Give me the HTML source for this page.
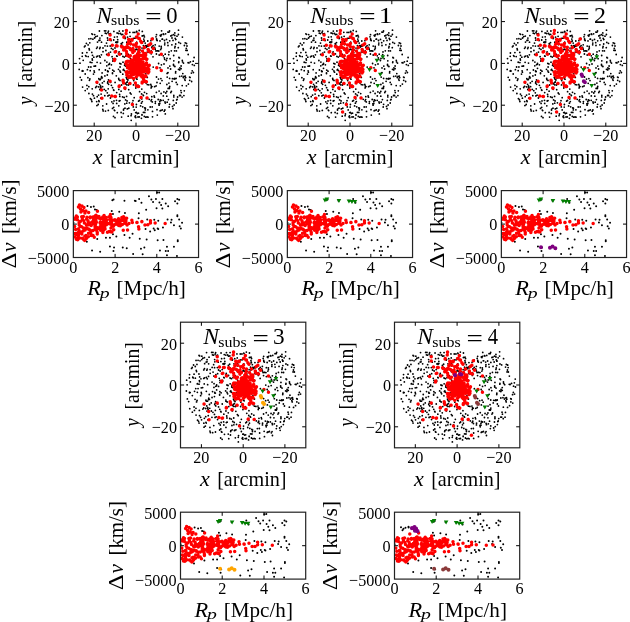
<!DOCTYPE html>
<html><head><meta charset="utf-8"><style>
html,body{margin:0;padding:0;background:#fff;width:630px;height:622px;overflow:hidden}
svg{display:block;will-change:transform}
text{font-family:"Liberation Serif", serif;fill:#000;font-kerning:none}
</style></head><body>
<svg width="630" height="622" viewBox="0 0 630 622">
<defs><g id="xyb"><path d="M14.8 21.1h0M34.8 29.1h0M0.3 4.1h0M27.7 -29.0h0M-0.7 -13.7h0M-2.5 21.5h0M31.2 13.7h0M-41.3 -28.8h0M28.5 -22.9h0M20.1 22.5h0M20.6 -24.5h0M1.9 -4.1h0M-56.5 -4.8h0M-5.9 -27.1h0M-33.9 9.5h0M-41.9 2.8h0M37.5 1.0h0M46.5 -1.6h0M-1.0 -5.8h0M-18.3 -21.5h0M29.3 39.7h0M24.9 47.0h0M-24.6 -15.0h0M10.4 -16.3h0M-8.4 -26.3h0M39.2 -25.1h0M-27.4 1.3h0M-36.3 -14.8h0M36.5 15.3h0M5.8 25.7h0M-5.8 29.6h0M16.9 -25.0h0M-43.6 -3.3h0M-18.3 -23.7h0M-28.1 18.3h0M-23.3 6.7h0M47.5 -0.3h0M-32.8 47.5h0M58.1 -5.9h0M-47.9 -18.5h0M-28.3 8.1h0M45.3 29.2h0M-10.1 2.8h0M-14.4 -18.9h0M0.4 15.2h0M42.5 -33.2h0M-26.8 -29.4h0M-11.7 -6.3h0M46.3 -3.1h0M-12.7 50.0h0M38.1 41.6h0M-40.5 2.6h0M21.3 51.7h0M26.0 17.2h0M31.0 -5.0h0M33.0 -31.3h0M-43.5 -29.1h0M16.0 23.2h0M2.9 9.7h0M-13.1 -32.4h0M-23.2 -4.6h0M53.7 16.9h0M-2.9 -31.0h0M24.0 -22.5h0M-56.0 -0.2h0M20.4 -9.4h0M-28.4 19.6h0M-9.3 21.4h0M-35.3 34.8h0M28.0 0.6h0M-22.0 37.5h0M-31.5 -32.6h0M30.5 -24.0h0M52.9 -0.5h0M-36.6 -32.4h0M-9.7 19.3h0M-12.5 46.6h0M44.9 27.2h0M50.5 -20.0h0M19.2 -14.2h0M-14.8 -19.7h0M-25.8 -17.4h0M-16.8 37.6h0M37.7 -7.9h0M-52.8 -3.1h0M-14.9 49.1h0M-35.9 -15.9h0M-10.4 36.5h0M28.9 46.6h0M-18.8 -26.6h0M53.6 13.7h0M-27.8 25.4h0M-21.5 -26.3h0M48.7 15.7h0M-31.1 -2.9h0M-13.3 -29.1h0M-8.2 -0.8h0M35.4 27.9h0M37.8 31.9h0M-20.2 -21.1h0M-16.2 33.0h0M29.6 -29.6h0M6.2 -20.4h0M-0.2 24.6h0M-6.2 -31.1h0M-9.7 14.1h0M20.4 29.0h0M39.9 -24.1h0M7.8 -14.9h0M-29.6 -29.8h0M9.2 -20.3h0M0.9 -31.4h0M36.1 17.9h0M-3.0 37.3h0M55.4 9.7h0M50.3 -15.0h0M42.9 -6.0h0M-28.1 32.5h0M11.3 14.0h0M-33.0 -15.4h0M-28.7 11.6h0M34.6 5.6h0M-12.3 5.9h0M-39.4 22.9h0M-10.6 -25.4h0M-22.5 53.0h0M-22.0 7.8h0M-16.7 -9.8h0M-8.9 37.5h0M-11.0 44.8h0M-56.8 6.0h0M16.5 48.0h0M-48.1 14.3h0M-15.1 0.5h0M-41.4 -25.4h0M2.5 49.8h0M-45.8 -1.1h0M49.9 -13.1h0M47.3 14.1h0M33.5 -32.5h0M-11.2 40.5h0M-33.0 -11.7h0M2.1 -13.6h0M-44.1 -29.6h0M26.3 46.5h0M-53.7 7.3h0M11.6 5.9h0M14.9 -22.7h0M-9.4 9.7h0M-8.7 18.6h0M-6.2 -7.2h0M-55.8 13.9h0M-1.2 -31.0h0M30.8 32.8h0M-43.5 -8.1h0M-47.8 -6.8h0M27.3 32.5h0M0.5 -14.3h0M27.2 36.9h0M-1.0 53.4h0M-50.9 -17.5h0M46.4 -26.3h0M0.3 49.1h0M-34.1 -27.8h0M0.7 -21.2h0M21.0 46.3h0M-38.8 33.3h0M-45.1 3.6h0M16.0 -16.4h0M43.7 6.5h0M9.4 44.8h0M15.2 -12.4h0M34.8 -27.5h0M57.4 9.1h0M-16.4 31.0h0M37.4 -28.8h0M10.1 19.2h0M-31.9 17.9h0M-16.7 -32.3h0M9.8 10.4h0M-34.6 14.5h0M16.2 43.5h0M33.0 -11.5h0M17.0 -6.6h0M27.3 -29.4h0M3.7 -11.0h0M6.0 51.6h0M-22.3 -23.4h0M33.1 25.2h0M28.7 -4.1h0M28.3 -5.6h0M-19.3 29.2h0M22.8 40.4h0M24.8 -27.4h0M6.3 -7.5h0M33.8 2.7h0M-27.5 16.6h0M-28.0 -30.9h0M28.8 -20.3h0M44.5 -20.1h0M-30.5 47.7h0M15.3 22.6h0M-3.6 39.8h0M23.1 41.8h0M-7.3 26.3h0M8.2 -22.5h0M-33.7 14.4h0M22.5 15.7h0M23.1 27.7h0M-50.8 10.6h0M-16.0 37.2h0M40.7 36.5h0M38.0 15.4h0M-47.1 30.1h0M-34.5 -21.2h0M-28.5 -25.4h0M25.3 -15.4h0M-21.0 54.3h0M0.4 41.1h0M-10.2 -7.4h0M32.0 -17.9h0M24.0 4.4h0M-33.2 42.4h0M-34.9 30.7h0M-1.1 -1.0h0M-0.6 -17.9h0M38.8 -28.0h0M-33.4 23.3h0M33.7 23.1h0M33.6 15.0h0M-16.9 -11.6h0M-12.3 45.7h0M-27.7 47.0h0M0.1 -14.1h0M-4.6 3.7h0M29.8 29.6h0M17.1 -17.7h0M40.2 19.0h0M-38.7 -7.2h0M32.0 9.3h0M-43.8 -4.4h0M-36.1 -23.2h0M23.8 40.2h0M-29.5 -20.3h0M-46.6 -13.5h0M27.3 -7.6h0M-35.6 16.1h0M-11.8 34.1h0M22.6 0.1h0M12.1 -11.2h0M28.2 47.8h0M-8.2 8.7h0M29.2 -9.2h0M-31.8 26.0h0M44.5 32.1h0M41.3 21.0h0M-5.4 -21.9h0M-9.4 33.0h0M24.9 15.2h0M-29.3 -8.9h0M-5.2 14.2h0M-10.6 20.5h0M18.1 32.6h0M-13.0 -1.2h0M8.7 4.8h0M25.4 1.4h0M16.3 38.5h0M2.5 -10.5h0M21.6 -12.6h0M-9.5 -9.3h0M23.2 -17.3h0M-27.5 -32.3h0M3.2 -32.9h0M35.3 -12.6h0M32.4 36.2h0M-17.2 16.2h0M37.3 37.0h0M-3.7 -24.1h0M39.1 -17.0h0M41.0 -27.2h0M-14.5 -28.8h0M-25.6 -29.8h0M-23.2 -2.4h0M-8.4 16.1h0M18.6 -16.1h0M38.8 15.6h0M-31.2 32.3h0M45.8 12.7h0M32.9 19.7h0M46.1 33.7h0M-35.4 22.6h0M3.6 28.3h0M-7.2 44.8h0M6.4 -27.6h0M-1.0 -0.2h0M4.6 42.5h0M-3.7 7.3h0M19.3 39.9h0M-14.6 -9.5h0M12.8 21.4h0M50.5 -19.8h0M56.4 1.2h0M-1.8 46.5h0M14.7 -18.9h0M42.3 -15.7h0M-3.0 3.0h0M-7.6 -9.1h0M6.3 38.2h0M-24.2 38.4h0M-11.3 0.4h0M-26.7 0.8h0M55.6 18.1h0M-19.8 -21.4h0M-23.5 10.1h0M15.8 33.3h0M45.1 5.3h0M49.3 12.7h0M18.5 33.8h0M48.0 13.1h0M11.3 21.2h0M-33.6 19.5h0M-4.9 30.7h0M37.8 33.5h0M-28.3 -23.2h0M-9.2 -21.2h0M-8.1 16.6h0M-44.6 36.3h0M8.8 49.0h0M-13.2 10.8h0M-2.9 -10.3h0M-46.6 16.9h0M-30.2 27.3h0M32.1 25.0h0M15.1 24.5h0M-4.6 50.6h0M-22.1 26.9h0M-39.1 42.2h0M-15.5 8.8h0M-7.2 20.7h0M-41.6 34.8h0M-16.0 17.0h0M15.2 -9.6h0M-13.4 33.5h0M7.8 -24.3h0M23.8 38.3h0M-19.7 12.4h0M11.8 -22.4h0M-8.4 45.4h0M-14.4 21.6h0M11.9 46.4h0M36.0 -25.4h0M-9.1 10.1h0M37.0 45.3h0M36.5 43.0h0M8.4 -26.5h0M41.1 35.9h0M48.4 -17.9h0M-48.6 6.3h0M29.3 50.5h0M-31.1 12.5h0M-28.7 29.4h0M34.1 -4.7h0M31.9 -31.3h0M9.3 46.5h0M45.1 2.6h0M-2.7 10.5h0M-37.4 23.5h0M-16.1 7.5h0M-11.4 2.0h0M-46.1 15.5h0M11.4 -18.2h0M42.8 -1.6h0M7.9 -27.9h0M32.7 -8.7h0M6.7 43.4h0M-4.9 52.3h0M11.5 -12.0h0M-28.4 7.5h0M16.5 53.4h0M19.9 -12.5h0M-28.6 -17.3h0M33.5 24.5h0M20.7 -23.5h0M10.7 30.2h0M-46.2 -20.6h0M-42.2 -6.2h0M40.1 15.0h0M-5.6 -18.8h0M37.8 -2.6h0M25.0 6.2h0M-27.3 -10.3h0M-40.3 -26.8h0M39.7 -19.4h0M-38.9 -1.1h0M-21.3 47.2h0M-2.6 -25.0h0M-47.1 -24.6h0M26.5 -24.2h0M35.9 -18.6h0M38.9 3.1h0M-36.8 -7.6h0M-37.4 31.7h0M-34.4 13.2h0M24.3 36.5h0M-50.8 27.2h0M-10.8 25.9h0M-19.3 40.0h0M42.7 -0.8h0M-2.7 43.5h0M38.8 -15.6h0M-39.4 -15.1h0M2.3 -6.3h0M25.1 37.0h0M42.8 -21.0h0M24.7 -13.9h0M-0.6 1.6h0M3.6 4.4h0M-47.2 23.3h0M11.6 9.0h0M2.7 23.7h0M-44.1 -0.8h0M0.1 -25.8h0M-44.2 -11.0h0M-42.5 10.7h0M8.5 28.9h0M-39.3 38.2h0M51.2 -13.0h0M-9.3 39.8h0M3.0 -12.2h0M-18.9 -30.4h0M-19.3 -7.5h0M2.0 53.6h0M-9.1 15.5h0M-15.9 3.6h0M-50.4 -7.8h0M15.6 36.2h0M-54.5 16.6h0M-27.4 20.9h0M-26.5 4.9h0M49.7 14.2h0M-29.2 2.4h0M-7.8 52.8h0M-24.9 -22.8h0M11.0 53.4h0M1.6 -27.1h0M-3.9 4.0h0M-43.1 -24.2h0M-10.9 -24.8h0M5.4 39.8h0M-35.0 24.6h0M-4.6 5.6h0M-30.2 -32.6h0M1.5 -13.7h0M-17.2 42.4h0M-30.6 6.6h0M-1.0 -25.2h0M-13.1 -7.0h0M-19.1 -17.3h0M20.5 13.6h0M37.6 2.1h0M27.9 28.5h0M30.4 -2.9h0M33.3 24.4h0M31.1 10.0h0M-0.2 54.2h0M8.4 -9.6h0M33.2 43.6h0M12.6 -14.1h0M-5.6 -4.9h0M26.1 -24.2h0M-12.8 6.5h0M-13.5 -20.8h0M33.6 40.9h0M-0.1 -6.6h0M-37.0 -22.9h0M-41.6 8.8h0M49.2 -20.6h0M40.2 39.6h0M-34.6 -8.6h0M-53.0 7.6h0M-0.3 49.2h0M32.0 4.5h0M58.3 2.0h0M2.0 21.7h0M-12.9 -16.7h0M11.1 -17.4h0M52.4 20.7h0M-46.9 -14.7h0M-11.6 7.2h0M8.7 44.5h0M54.4 -1.6h0M-7.0 14.6h0M3.5 37.0h0M-38.5 -21.3h0M46.2 22.2h0M-24.6 1.4h0M-37.2 15.2h0M12.1 -17.2h0M-53.6 -10.4h0M33.7 -22.6h0M-22.9 40.0h0M10.1 19.7h0M-35.5 -0.3h0M6.2 -27.4h0M17.2 3.7h0M8.7 -10.4h0M2.6 37.8h0M13.2 35.9h0M31.7 -20.7h0M25.2 -17.1h0M-38.7 -27.3h0M9.6 -17.7h0M-5.9 -13.4h0M9.7 53.8h0M-7.1 14.1h0M-21.7 46.7h0M37.0 -23.0h0M12.0 53.8h0M-0.5 52.6h0M-30.1 -12.9h0M25.6 -32.6h0M-22.3 43.9h0M-1.8 34.3h0M4.0 -13.4h0M-44.1 38.1h0M-17.4 -29.9h0M-36.1 -25.3h0M19.2 -18.6h0M-40.3 24.1h0M-6.6 39.4h0M-17.2 26.0h0M-14.4 53.7h0M0.6 -31.9h0M24.2 -28.0h0M46.8 10.2h0M-15.4 -29.7h0M1.5 5.0h0M-26.9 31.8h0M-13.5 18.4h0M7.9 -22.1h0M-37.8 41.1h0M-20.9 19.0h0M-45.8 7.3h0M-16.2 0.0h0M-22.1 -32.0h0M-43.8 25.4h0M-25.5 -11.3h0M47.9 32.2h0M21.0 19.1h0M-17.4 -10.2h0M18.6 23.3h0M-29.4 40.6h0M-17.3 15.1h0M48.3 27.4h0M-23.0 -14.0h0M39.7 8.2h0M25.4 -28.7h0M-7.6 21.6h0M22.8 -12.4h0M29.0 38.5h0M52.2 -8.9h0M50.4 22.4h0M38.6 15.0h0M23.2 -8.4h0M1.4 50.1h0M-43.6 30.7h0M-53.4 23.7h0M35.8 -27.9h0M5.4 54.9h0M-51.6 -16.6h0M24.2 19.9h0M-30.7 -30.2h0M1.8 -6.4h0M51.0 -17.4h0M-23.5 45.0h0M-41.9 7.4h0M-19.5 36.9h0M5.6 30.5h0M-38.7 19.5h0M11.5 -4.5h0M31.2 38.8h0M-45.1 -24.7h0M-35.4 23.6h0M-20.5 -3.7h0M-48.7 25.4h0M56.2 7.4h0M-45.8 -1.3h0M49.1 16.9h0M39.7 -23.8h0M-36.8 16.2h0M-38.8 33.3h0M-36.9 38.1h0M-21.0 -15.4h0M6.0 -15.3h0M38.8 -30.5h0M-53.7 7.8h0M15.0 37.4h0M24.1 47.4h0M52.1 -0.7h0M-23.5 9.5h0M-49.1 22.0h0M-39.4 -6.6h0M-53.8 -7.1h0M-36.2 26.1h0M41.6 33.6h0M-25.4 18.9h0M1.7 -9.2h0M-18.9 -7.2h0M19.4 38.2h0M-23.9 -6.7h0M7.4 -17.8h0M-20.6 -4.6h0M54.1 14.0h0M8.3 53.0h0M-2.3 17.2h0M-23.5 -18.3h0M-36.4 20.9h0M18.8 -15.0h0M9.5 -9.8h0M3.5 7.6h0M42.4 -28.9h0M-47.4 3.6h0M-29.1 -1.3h0M6.3 -32.0h0M1.5 10.4h0M-49.1 -10.8h0M-49.9 -7.1h0M42.5 5.9h0M25.1 30.1h0M38.6 -12.6h0M7.4 32.2h0M-42.5 32.3h0M-23.4 24.3h0M-8.7 45.5h0M14.2 43.6h0M7.4 48.9h0M28.7 -18.6h0M30.9 21.1h0M-14.9 27.8h0M5.7 35.5h0M20.5 -28.7h0M-35.9 -6.2h0M39.6 9.5h0M-45.6 35.2h0M-36.8 6.3h0M-24.6 21.9h0M43.9 4.5h0M22.2 36.1h0M0.2 43.7h0M-37.2 37.3h0M21.0 -12.6h0M40.4 -12.5h0M43.7 13.0h0M-49.6 -20.0h0M-33.2 46.1h0M-38.7 -16.3h0M-3.8 9.0h0M-13.1 -17.1h0M-4.8 56.9h0M20.0 -26.6h0M-26.5 0.0h0M-27.8 8.1h0M3.3 53.5h0M7.1 31.7h0M43.6 32.1h0M15.8 -16.0h0M-25.6 34.6h0M21.2 -22.9h0M30.8 28.0h0M1.0 15.8h0M-17.5 5.9h0M-19.1 -20.7h0M57.2 -2.2h0M-15.5 -30.0h0M-31.0 -17.6h0M43.4 -5.5h0M-6.4 8.0h0M-22.4 26.5h0M6.0 51.2h0M-18.7 49.3h0" stroke="#000" stroke-width="1.8" stroke-linecap="round"/><path d="M-9.6 -32.9h0M-9.9 -30.0h0M2.2 -29.3h0M-12.1 -26.1h0M0.4 -26.5h0M3.3 -25.0h0M-6.7 -23.6h0M-3.9 -24.0h0M4.7 -22.2h0M5.8 -20.8h0M16.1 -24.3h0M-7.4 -21.1h0M-5.3 -19.7h0M0.4 -20.0h0M-2.4 -18.3h0M-18.9 -17.5h0M-14.6 -17.2h0M-12.4 -15.8h0M-9.6 -16.5h0M-6.7 -15.4h0M-3.1 -15.0h0M0.4 -16.8h0M3.3 -16.1h0M8.3 -16.1h0M12.9 -18.3h0M14.7 -19.7h0M17.2 -15.0h0M-20.3 -11.8h0M-16.7 -9.3h0M-12.4 -13.3h0M-9.6 -11.8h0M2.6 -11.5h0M12.6 -12.5h0M15.4 -11.1h0M9.7 -8.3h0M-4.6 -13.3h0M-1.7 -12.5h0M-7.4 13.0h0M-2.4 15.2h0M7.6 15.9h0M9.0 18.0h0M6.1 19.5h0M10.4 18.4h0M-12.8 17.3h0M-12.4 19.5h0M-6.0 20.2h0M-0.6 19.5h0M0.4 22.3h0M2.6 23.0h0M-16.7 22.7h0M-11.0 24.8h0M5.1 34.1h0M11.1 34.5h0M-20.6 33.0h0M-9.0 10.6h0M-5.0 11.6h0M5.0 12.6h0M10.0 13.1h0M-0.7 6.2h0M-0.5 0.4h0M-5.0 1.1h0M8.2 5.6h0M7.7 4.3h0M3.6 3.9h0M-9.8 8.6h0M4.3 6.1h0M-4.8 -0.7h0M3.0 2.3h0M4.4 -1.9h0M3.0 5.4h0M4.6 11.0h0M-3.0 -2.6h0M-1.2 1.9h0M5.1 4.3h0M-1.9 -4.1h0M-2.4 11.1h0M-4.3 4.3h0M3.8 -7.8h0M1.3 11.7h0M0.3 -3.1h0M4.2 2.2h0M-8.5 8.4h0M5.4 9.2h0M10.4 5.1h0M1.8 -6.5h0M5.0 -1.7h0M-1.9 -6.3h0M-5.3 -1.1h0M-8.5 4.3h0M10.4 6.6h0M3.3 -2.6h0M-6.3 9.4h0M8.2 3.7h0M2.6 5.6h0M11.4 6.9h0M4.4 6.4h0M-9.2 11.6h0M7.2 6.3h0M-0.2 9.7h0M-7.5 13.9h0M4.6 1.5h0M3.1 7.1h0M1.8 10.6h0M-3.3 -0.3h0M7.8 2.8h0M-4.7 9.2h0M10.5 -0.5h0M-8.0 1.7h0M0.0 0.5h0M10.1 -4.6h0M9.2 -6.3h0M-4.1 7.0h0M8.3 8.6h0M3.2 3.6h0M2.0 6.6h0M-0.1 4.5h0M4.7 2.6h0M6.0 6.6h0M-1.8 -0.0h0M0.9 9.1h0M-1.2 5.3h0M-6.3 4.3h0M3.6 4.3h0M-1.8 7.2h0M2.8 -1.1h0M-2.6 1.9h0M-0.5 2.2h0M7.6 -5.6h0M0.6 9.3h0M6.6 13.0h0M-10.1 0.1h0M-1.2 7.0h0M8.1 -7.5h0M5.4 -7.8h0M2.1 11.0h0M0.0 3.9h0M6.2 3.6h0M0.4 13.3h0M7.8 0.5h0M6.9 0.7h0M1.9 7.5h0M2.4 7.1h0M-8.9 -8.0h0M5.0 -4.1h0M-5.7 -7.7h0M9.2 7.8h0M10.6 -4.0h0M1.0 -5.4h0M6.0 13.7h0M-4.8 13.5h0M7.4 1.4h0M0.4 -1.6h0M3.6 5.5h0M10.7 -4.5h0M8.4 13.0h0M10.4 1.3h0M-3.8 9.7h0M1.7 3.5h0M10.3 0.8h0M3.1 -1.7h0M0.9 8.4h0M1.5 11.9h0M0.6 9.9h0M-3.4 8.8h0M-7.0 2.5h0M-0.2 2.4h0M-2.8 4.2h0M12.6 2.9h0M4.5 9.6h0M-0.3 -6.2h0M-2.6 10.1h0M-9.7 -1.6h0M7.5 8.1h0M1.0 8.2h0M2.1 -5.7h0M-9.2 -1.9h0M7.0 -1.4h0M-4.9 -2.8h0M-9.0 1.8h0M-6.7 5.1h0M-3.2 -11.0h0M5.7 0.7h0M2.9 -0.6h0M6.1 7.8h0M5.3 4.9h0M9.7 7.2h0M6.8 11.8h0M-0.9 -0.7h0M-5.0 7.4h0M13.3 1.8h0M4.6 8.9h0M-4.9 2.0h0M2.9 8.4h0M0.8 1.2h0M-5.6 0.1h0M6.8 3.3h0M-4.5 -3.3h0M5.0 6.0h0M11.9 5.6h0M0.6 6.3h0M3.1 -2.3h0M-8.1 -2.1h0M2.9 3.9h0M-1.6 -4.2h0M-6.8 -6.8h0M12.1 9.5h0M12.8 8.3h0M-4.7 4.4h0M0.6 6.3h0M-3.7 1.7h0M4.0 5.2h0M5.1 4.1h0M-1.1 8.1h0M1.3 -3.2h0M-3.1 2.6h0M0.3 3.7h0M1.0 3.8h0M0.1 -6.2h0M3.7 10.0h0M3.8 1.3h0M3.9 -4.2h0M-5.0 7.8h0M-5.8 13.6h0M-1.5 -7.0h0M-4.0 6.2h0M4.2 3.8h0M10.6 7.5h0M0.9 6.8h0M11.8 9.4h0M7.7 -5.0h0M0.0 7.7h0M-0.9 10.1h0M4.9 9.0h0M9.1 1.1h0M-1.2 8.7h0M7.4 2.6h0M-6.6 3.9h0M3.3 10.5h0M6.1 2.8h0M6.5 6.4h0M2.3 3.0h0M-0.6 7.4h0M-5.9 -1.8h0M1.0 -7.6h0M-3.4 6.6h0M4.7 2.2h0M-0.5 -7.3h0M12.9 6.2h0M12.1 -13.9h0M7.8 -10.2h0M-8.2 -15.9h0M1.6 -9.7h0M9.7 -9.9h0M3.8 -8.5h0M6.4 -12.5h0M-8.4 -19.2h0M-9.2 -9.7h0M3.1 -13.8h0M-9.6 -32.8h0M-25.9 -28.3h0M-25.9 -24.0h0M-11.9 -26.6h0M2.2 -29.4h0M16.3 -24.3h0M-23.7 -18.1h0M-19.7 -17.6h0M-20.9 -11.4h0M-27.6 -8.6h0M-16.4 -9.1h0M-21.4 -4.1h0M-14.1 -16.4h0M8.4 -15.9h0M13.5 -18.7h0M17.4 -14.8h0M14.0 -11.4h0M25.3 -9.1h0M20.8 4.4h0M25.3 7.2h0M-7.4 -23.8h0M-4.0 -23.2h0M2.8 -24.9h0M5.6 -20.9h0M-0.6 -18.7h0M-10.7 -14.8h0M-5.1 -14.2h0M-25.9 17.9h0M-13.0 16.8h0M-16.9 23.0h0M-11.3 24.7h0M-6.2 20.2h0M-0.6 19.6h0M1.7 23.0h0M6.2 18.5h0M9.0 17.9h0M-8.5 12.3h0M9.5 12.3h0M-39.1 18.9h0M-34.5 26.6h0M-34.1 34.8h0M-24.3 32.6h0M-21.0 33.2h0M-16.8 22.6h0M-11.0 24.6h0M-3.6 41.0h0M-21.6 -2.9h0M11.0 34.6h0M5.0 34.2h0" stroke="#ff0000" stroke-width="3.5" stroke-linecap="round"/></g><g id="dvb"><path d="M39.0 9.6h0M40.2 8.8h0M51.1 10.1h0M61.5 10.1h0M14.1 15.4h0M17.6 16.4h0M20.4 15.9h0M21.6 18.8h0M23.3 19.4h0M38.4 20.5h0M45.9 21.1h0M51.6 22.4h0M39.6 23.4h0M0.1 32.1h0M39.6 43.7h0M51.1 44.3h0M59.2 43.1h0M23.9 48.4h0M32.6 47.2h0M36.6 47.2h0M43.0 46.0h0M56.3 47.2h0M13.5 51.2h0M36.6 55.8h0M40.7 57.0h0M49.4 57.0h0M53.4 57.6h0M18.7 59.9h0M26.8 61.1h0M40.1 60.5h0M59.8 63.4h0M83.8 2.0h0M85.8 1.8h0M75.6 5.7h0M65.8 8.4h0M62.3 10.4h0M68.1 12.2h0M78.0 9.0h0M82.6 8.4h0M89.0 8.4h0M79.7 11.3h0M86.1 11.9h0M87.8 14.5h0M92.4 13.0h0M94.8 15.7h0M101.7 10.7h0M104.0 8.4h0M105.8 9.2h0M104.0 13.0h0M83.2 17.7h0M89.0 18.0h0M72.8 19.2h0M65.5 22.6h0M65.2 27.7h0M104.0 24.6h0M104.0 25.6h0M73.9 28.9h0M80.9 29.2h0M84.9 30.1h0M94.2 28.9h0M98.2 29.2h0M105.8 28.9h0M97.6 31.9h0M100.6 34.7h0M108.7 32.1h0M106.3 35.6h0M107.5 37.9h0M72.2 38.5h0M80.3 37.9h0M84.3 37.9h0M84.9 38.4h0M89.6 36.8h0M76.8 40.8h0M81.4 39.7h0M66.4 48.1h0M73.3 48.9h0M84.3 49.7h0M90.1 49.3h0M104.4 49.7h0M104.4 50.7h0M67.6 58.2h0M71.0 57.0h0M86.6 59.9h0M92.4 60.5h0M94.8 60.5h0M93.6 56.2h0M100.6 56.2h0M69.3 63.6h0M93.6 64.6h0M103.6 65.4h0" stroke="#000" stroke-width="2.0" stroke-linecap="round"/><path d="M63.5 31.9h0M68.5 31.0h0M65.2 36.2h0M65.5 38.5h0M71.6 34.4h0M74.5 34.2h0M77.1 30.1h0M77.1 32.5h0M81.8 32.5h0M91.8 33.0h0M24.1 20.7h0M15.3 21.9h0M63.7 32.0h0M68.5 31.1h0M37.6 26.8h0M39.5 29.6h0M45.2 28.2h0M48.5 26.8h0M53.3 27.7h0M58.5 29.6h0M59.0 32.0h0M55.6 33.0h0M53.7 34.4h0M49.0 33.9h0M46.1 32.5h0M42.3 33.4h0M38.5 35.4h0M40.4 39.2h0M38.5 41.5h0M49.9 39.6h0M54.2 39.4h0M50.9 29.6h0M52.3 31.5h0M13.6 26.7h0M4.9 38.3h0M22.3 33.1h0M17.8 34.8h0M19.8 26.5h0M11.5 45.6h0M7.0 30.8h0M1.6 28.7h0M6.9 41.1h0M5.8 34.1h0M5.4 38.8h0M19.7 39.8h0M5.3 41.8h0M21.8 38.7h0M2.8 43.5h0M19.9 32.7h0M4.0 29.2h0M12.6 45.0h0M14.9 46.1h0M5.7 32.4h0M17.2 39.8h0M9.8 40.5h0M8.4 26.2h0M10.0 25.9h0M14.6 32.6h0M11.7 38.7h0M6.6 35.6h0M1.4 46.2h0M13.2 47.6h0M2.3 39.0h0M16.7 32.5h0M3.1 28.5h0M4.2 42.5h0M3.0 43.6h0M10.2 37.3h0M13.8 37.7h0M15.2 38.7h0M8.2 41.9h0M6.6 41.3h0M17.5 42.7h0M7.7 42.7h0M22.1 35.3h0M21.3 27.9h0M1.3 35.8h0M15.2 42.7h0M8.9 47.7h0M6.0 42.3h0M3.0 25.5h0M4.0 26.3h0M11.9 37.7h0M5.0 46.5h0M9.0 28.3h0M4.9 41.9h0M20.9 28.6h0M1.7 42.8h0M6.3 47.5h0M11.8 39.5h0M8.5 43.3h0M11.0 32.3h0M20.5 27.4h0M16.9 26.4h0M15.0 34.1h0M19.7 26.3h0M13.2 34.3h0M20.9 46.6h0M14.6 30.1h0M6.5 30.9h0M10.4 30.2h0M5.5 42.4h0M14.9 31.8h0M22.5 29.9h0M13.3 28.5h0M19.7 44.9h0M6.8 42.2h0M18.8 31.4h0M8.2 36.1h0M20.3 28.6h0M15.8 38.6h0M10.8 38.2h0M20.1 29.7h0M20.1 33.2h0M17.9 44.8h0M5.0 44.8h0M22.5 31.7h0M1.6 27.5h0M22.0 25.1h0M20.7 28.4h0M16.9 27.1h0M4.3 49.1h0M3.5 48.2h0M11.8 49.2h0M11.4 49.8h0M2.9 48.0h0M10.5 49.1h0M3.0 48.7h0M4.9 48.5h0M3.6 47.4h0M12.5 48.2h0M35.7 26.2h0M29.4 26.5h0M28.5 27.4h0M32.6 26.8h0M33.4 33.7h0M29.5 41.8h0M27.2 28.1h0M37.1 41.1h0M33.3 29.2h0M22.7 24.7h0M29.7 31.9h0M30.5 31.0h0M21.8 37.3h0M32.0 34.5h0M30.4 37.4h0M37.3 40.9h0M33.1 31.7h0M26.7 32.1h0M37.2 31.4h0M27.8 31.9h0M23.9 43.4h0M21.7 35.8h0M36.4 28.9h0M31.4 31.3h0M23.5 40.3h0M34.1 41.6h0M22.4 37.4h0M26.8 36.5h0M30.4 30.1h0M37.1 23.9h0M29.8 35.4h0M37.5 28.5h0M31.7 38.4h0M27.7 37.8h0M27.9 34.2h0M31.4 37.1h0M26.8 36.2h0M30.3 28.3h0M31.4 29.1h0M36.1 33.1h0M33.1 34.1h0M29.2 28.2h0M23.9 42.0h0M30.1 34.1h0M30.0 39.8h0M25.4 27.3h0M34.8 32.9h0M35.9 40.8h0M22.3 31.3h0M23.6 26.9h0M25.6 25.9h0M27.3 39.6h0M29.9 32.7h0M23.0 31.6h0M37.6 37.5h0M28.8 33.2h0M24.0 37.2h0M27.5 34.1h0M27.0 31.3h0M21.9 27.8h0M30.7 25.0h0M24.5 37.9h0M41.5 29.1h0M41.0 34.2h0M38.2 32.3h0M52.1 27.9h0M44.2 33.8h0M47.7 29.6h0M37.4 30.3h0M43.2 33.0h0M41.9 30.0h0M48.3 34.0h0M42.9 29.8h0M47.0 35.1h0M40.0 35.6h0M49.4 29.6h0M48.6 29.2h0M37.9 33.5h0M43.4 31.2h0M45.5 34.9h0M50.2 26.2h0M47.3 30.5h0M44.9 34.3h0M44.1 30.6h0M52.6 30.3h0M45.4 31.0h0M51.4 32.6h0M49.9 29.9h0M37.3 32.7h0M46.6 33.6h0" stroke="#ff0000" stroke-width="3.5" stroke-linecap="round"/></g><clipPath id="cxy"><rect x="-62.6" y="-62.8" width="125.3" height="125.6"/></clipPath><clipPath id="cdv"><rect x="0" y="0" width="125.2" height="66.9"/></clipPath></defs>
<g transform="translate(136.00,63.40)" clip-path="url(#cxy)"><use href="#xyb"/>
</g>
<rect x="73.35" y="0.60" width="125.3" height="125.6" fill="none" stroke="#222" stroke-width="1.2"/>
<path d="M177.8 0.6v3.6M177.8 126.2v-3.6M73.3 105.2h3.6M198.6 105.2h-3.6M136.0 0.6v3.6M136.0 126.2v-3.6M73.3 63.4h3.6M198.6 63.4h-3.6M94.2 0.6v3.6M94.2 126.2v-3.6M73.3 21.6h3.6M198.6 21.6h-3.6" stroke="#000" stroke-width="1"/>
<text x="53.72" y="28.00" font-size="17.6" textLength="16.19" lengthAdjust="spacingAndGlyphs">20</text>
<text x="86.06" y="141.10" font-size="17.6" textLength="16.19" lengthAdjust="spacingAndGlyphs">20</text>
<text x="61.82" y="69.80" font-size="17.6" textLength="8.10" lengthAdjust="spacingAndGlyphs">0</text>
<text x="131.95" y="141.10" font-size="17.6" textLength="8.10" lengthAdjust="spacingAndGlyphs">0</text>
<text x="44.59" y="111.60" font-size="17.6" textLength="25.32" lengthAdjust="spacingAndGlyphs">&#8722;20</text>
<text x="165.04" y="141.10" font-size="17.6" textLength="25.32" lengthAdjust="spacingAndGlyphs">&#8722;20</text>
<text x="96.17" y="22.80" font-size="22.5" font-style="italic" textLength="15.73" lengthAdjust="spacingAndGlyphs">N</text>
<text x="111.14" y="25.20" font-size="14.8" textLength="28.43" lengthAdjust="spacingAndGlyphs">subs</text>
<text x="145.26" y="24.30" font-size="22.5" textLength="16.36" lengthAdjust="spacingAndGlyphs">=</text>
<text x="166.24" y="22.70" font-size="22.5" textLength="11.33" lengthAdjust="spacingAndGlyphs">0</text>
<text x="92.87" y="164.40" font-size="22" font-style="italic" textLength="9.79" lengthAdjust="spacingAndGlyphs">x</text>
<text x="110.00" y="164.40" font-size="22" textLength="69.39" lengthAdjust="spacingAndGlyphs">[arcmin]</text>
<text transform="translate(32.10,106.70) rotate(-90)" x="1.60" y="0" font-size="22" font-style="italic" textLength="8.49" lengthAdjust="spacingAndGlyphs">y</text>
<text transform="translate(32.10,86.50) rotate(-90)" x="-1.45" y="0" font-size="22" textLength="67.20" lengthAdjust="spacingAndGlyphs">[arcmin]</text>
<g transform="translate(73.35,190.60)" clip-path="url(#cdv)"><use href="#dvb"/>
<path d="M6.1 14.4h0M8.6 15.4h0M10.6 16.9h0M7.1 18.4h0M9.6 19.9h0M7.6 21.4h0M11.6 22.4h0M5.1 16.4h0M12.6 20.4h0" stroke="#ff0000" stroke-width="3.5" stroke-linecap="round"/>
</g>
<rect x="73.35" y="190.60" width="125.2" height="66.9" fill="none" stroke="#222" stroke-width="1.2"/>
<path d="M115.1 190.6v3.6M115.1 257.5v-3.6M156.8 190.6v3.6M156.8 257.5v-3.6M73.3 224.1h3.6M198.6 224.1h-3.6" stroke="#000" stroke-width="1"/>
<text x="69.30" y="272.70" font-size="17.6" textLength="8.10" lengthAdjust="spacingAndGlyphs">0</text>
<text x="111.13" y="272.70" font-size="17.6" textLength="8.10" lengthAdjust="spacingAndGlyphs">2</text>
<text x="152.74" y="272.70" font-size="17.6" textLength="8.10" lengthAdjust="spacingAndGlyphs">4</text>
<text x="194.40" y="272.70" font-size="17.6" textLength="8.10" lengthAdjust="spacingAndGlyphs">6</text>
<text x="36.98" y="197.00" font-size="17.6" textLength="32.38" lengthAdjust="spacingAndGlyphs">5000</text>
<text x="61.27" y="230.45" font-size="17.6" textLength="8.10" lengthAdjust="spacingAndGlyphs">0</text>
<text x="27.85" y="263.90" font-size="17.6" textLength="41.52" lengthAdjust="spacingAndGlyphs">&#8722;5000</text>
<text x="87.27" y="294.90" font-size="22" font-style="italic" textLength="13.65" lengthAdjust="spacingAndGlyphs">R</text>
<text x="99.80" y="297.50" font-size="14.6" font-style="italic" textLength="9.84" lengthAdjust="spacingAndGlyphs">p</text>
<text x="116.58" y="294.90" font-size="22" textLength="69.24" lengthAdjust="spacingAndGlyphs">[Mpc/h]</text>
<text transform="translate(16.15,267.60) rotate(-90)" x="-0.94" y="0" font-size="22" textLength="15.87" lengthAdjust="spacingAndGlyphs">&#916;</text>
<text transform="translate(16.15,251.60) rotate(-90)" x="-0.29" y="0" font-size="22" font-style="italic" textLength="9.39" lengthAdjust="spacingAndGlyphs">v</text>
<text transform="translate(16.15,232.40) rotate(-90)" x="-1.55" y="0" font-size="22" textLength="54.39" lengthAdjust="spacingAndGlyphs">[km/s]</text>
<g transform="translate(350.00,63.40)" clip-path="url(#cxy)"><use href="#xyb"/>
<path d="M30.5 -8.1H35.1L32.8 -4.1ZM24.6 -4.7H29.2L26.9 -0.7ZM17.2 4.5H21.8L19.5 8.5ZM28.0 9.3H32.6L30.3 13.3ZM25.4 20.6H30.0L27.7 24.6Z" fill="#007f00"/>
<path d="M-7.4 48.7h0" stroke="#ff0000" stroke-width="3.5" stroke-linecap="round"/>
</g>
<rect x="287.35" y="0.60" width="125.3" height="125.6" fill="none" stroke="#222" stroke-width="1.2"/>
<path d="M391.8 0.6v3.6M391.8 126.2v-3.6M287.4 105.2h3.6M412.7 105.2h-3.6M350.0 0.6v3.6M350.0 126.2v-3.6M287.4 63.4h3.6M412.7 63.4h-3.6M308.2 0.6v3.6M308.2 126.2v-3.6M287.4 21.6h3.6M412.7 21.6h-3.6" stroke="#000" stroke-width="1"/>
<text x="267.72" y="28.00" font-size="17.6" textLength="16.19" lengthAdjust="spacingAndGlyphs">20</text>
<text x="300.06" y="141.10" font-size="17.6" textLength="16.19" lengthAdjust="spacingAndGlyphs">20</text>
<text x="275.82" y="69.80" font-size="17.6" textLength="8.10" lengthAdjust="spacingAndGlyphs">0</text>
<text x="345.95" y="141.10" font-size="17.6" textLength="8.10" lengthAdjust="spacingAndGlyphs">0</text>
<text x="258.59" y="111.60" font-size="17.6" textLength="25.32" lengthAdjust="spacingAndGlyphs">&#8722;20</text>
<text x="379.04" y="141.10" font-size="17.6" textLength="25.32" lengthAdjust="spacingAndGlyphs">&#8722;20</text>
<text x="310.17" y="22.80" font-size="22.5" font-style="italic" textLength="15.73" lengthAdjust="spacingAndGlyphs">N</text>
<text x="325.14" y="25.20" font-size="14.8" textLength="28.43" lengthAdjust="spacingAndGlyphs">subs</text>
<text x="359.26" y="24.30" font-size="22.5" textLength="16.36" lengthAdjust="spacingAndGlyphs">=</text>
<text x="378.70" y="22.70" font-size="22.5" textLength="13.63" lengthAdjust="spacingAndGlyphs">1</text>
<text x="306.87" y="164.40" font-size="22" font-style="italic" textLength="9.79" lengthAdjust="spacingAndGlyphs">x</text>
<text x="324.00" y="164.40" font-size="22" textLength="69.39" lengthAdjust="spacingAndGlyphs">[arcmin]</text>
<text transform="translate(246.10,106.70) rotate(-90)" x="1.60" y="0" font-size="22" font-style="italic" textLength="8.49" lengthAdjust="spacingAndGlyphs">y</text>
<text transform="translate(246.10,86.50) rotate(-90)" x="-1.45" y="0" font-size="22" textLength="67.20" lengthAdjust="spacingAndGlyphs">[arcmin]</text>
<g transform="translate(287.35,190.60)" clip-path="url(#cdv)"><use href="#dvb"/>
<path d="M35.3 7.9H39.9L37.6 11.9ZM37.3 6.9H41.9L39.6 10.9ZM49.3 8.3H53.9L51.6 12.3ZM59.3 8.9H63.9L61.6 12.9ZM62.3 9.5H66.9L64.6 13.5ZM65.3 9.5H69.9L67.6 13.5Z" fill="#007f00"/>
<path d="M6.1 14.4h0M8.6 15.4h0M10.6 16.9h0M7.1 18.4h0M9.6 19.9h0M7.6 21.4h0M11.6 22.4h0M5.1 16.4h0M12.6 20.4h0" stroke="#ff0000" stroke-width="3.5" stroke-linecap="round"/>
</g>
<rect x="287.35" y="190.60" width="125.2" height="66.9" fill="none" stroke="#222" stroke-width="1.2"/>
<path d="M329.1 190.6v3.6M329.1 257.5v-3.6M370.8 190.6v3.6M370.8 257.5v-3.6M287.4 224.1h3.6M412.6 224.1h-3.6" stroke="#000" stroke-width="1"/>
<text x="283.30" y="272.70" font-size="17.6" textLength="8.10" lengthAdjust="spacingAndGlyphs">0</text>
<text x="325.13" y="272.70" font-size="17.6" textLength="8.10" lengthAdjust="spacingAndGlyphs">2</text>
<text x="366.74" y="272.70" font-size="17.6" textLength="8.10" lengthAdjust="spacingAndGlyphs">4</text>
<text x="408.40" y="272.70" font-size="17.6" textLength="8.10" lengthAdjust="spacingAndGlyphs">6</text>
<text x="250.98" y="197.00" font-size="17.6" textLength="32.38" lengthAdjust="spacingAndGlyphs">5000</text>
<text x="275.27" y="230.45" font-size="17.6" textLength="8.10" lengthAdjust="spacingAndGlyphs">0</text>
<text x="241.85" y="263.90" font-size="17.6" textLength="41.52" lengthAdjust="spacingAndGlyphs">&#8722;5000</text>
<text x="301.27" y="294.90" font-size="22" font-style="italic" textLength="13.65" lengthAdjust="spacingAndGlyphs">R</text>
<text x="313.80" y="297.50" font-size="14.6" font-style="italic" textLength="9.84" lengthAdjust="spacingAndGlyphs">p</text>
<text x="330.58" y="294.90" font-size="22" textLength="69.24" lengthAdjust="spacingAndGlyphs">[Mpc/h]</text>
<text transform="translate(230.15,267.60) rotate(-90)" x="-0.94" y="0" font-size="22" textLength="15.87" lengthAdjust="spacingAndGlyphs">&#916;</text>
<text transform="translate(230.15,251.60) rotate(-90)" x="-0.29" y="0" font-size="22" font-style="italic" textLength="9.39" lengthAdjust="spacingAndGlyphs">v</text>
<text transform="translate(230.15,232.40) rotate(-90)" x="-1.55" y="0" font-size="22" textLength="54.39" lengthAdjust="spacingAndGlyphs">[km/s]</text>
<g transform="translate(564.00,63.40)" clip-path="url(#cxy)"><use href="#xyb"/>
<path d="M30.5 -8.1H35.1L32.8 -4.1ZM24.6 -4.7H29.2L26.9 -0.7ZM17.2 4.5H21.8L19.5 8.5ZM28.0 9.3H32.6L30.3 13.3ZM25.4 20.6H30.0L27.7 24.6Z" fill="#007f00"/>
<path d="M-7.4 48.7h0" stroke="#ff0000" stroke-width="3.5" stroke-linecap="round"/>
<path d="M17.6 11.0h0M18.2 12.5h0M19.8 17.8h0M20.9 18.9h0" stroke="#7f007f" stroke-width="4.0" stroke-linecap="round"/>
</g>
<rect x="501.35" y="0.60" width="125.3" height="125.6" fill="none" stroke="#222" stroke-width="1.2"/>
<path d="M605.8 0.6v3.6M605.8 126.2v-3.6M501.4 105.2h3.6M626.6 105.2h-3.6M564.0 0.6v3.6M564.0 126.2v-3.6M501.4 63.4h3.6M626.6 63.4h-3.6M522.2 0.6v3.6M522.2 126.2v-3.6M501.4 21.6h3.6M626.6 21.6h-3.6" stroke="#000" stroke-width="1"/>
<text x="481.72" y="28.00" font-size="17.6" textLength="16.19" lengthAdjust="spacingAndGlyphs">20</text>
<text x="514.06" y="141.10" font-size="17.6" textLength="16.19" lengthAdjust="spacingAndGlyphs">20</text>
<text x="489.82" y="69.80" font-size="17.6" textLength="8.10" lengthAdjust="spacingAndGlyphs">0</text>
<text x="559.95" y="141.10" font-size="17.6" textLength="8.10" lengthAdjust="spacingAndGlyphs">0</text>
<text x="472.59" y="111.60" font-size="17.6" textLength="25.32" lengthAdjust="spacingAndGlyphs">&#8722;20</text>
<text x="593.04" y="141.10" font-size="17.6" textLength="25.32" lengthAdjust="spacingAndGlyphs">&#8722;20</text>
<text x="524.17" y="22.80" font-size="22.5" font-style="italic" textLength="15.73" lengthAdjust="spacingAndGlyphs">N</text>
<text x="539.14" y="25.20" font-size="14.8" textLength="28.43" lengthAdjust="spacingAndGlyphs">subs</text>
<text x="573.26" y="24.30" font-size="22.5" textLength="16.36" lengthAdjust="spacingAndGlyphs">=</text>
<text x="594.05" y="22.70" font-size="22.5" textLength="11.97" lengthAdjust="spacingAndGlyphs">2</text>
<text x="520.87" y="164.40" font-size="22" font-style="italic" textLength="9.79" lengthAdjust="spacingAndGlyphs">x</text>
<text x="538.00" y="164.40" font-size="22" textLength="69.39" lengthAdjust="spacingAndGlyphs">[arcmin]</text>
<text transform="translate(460.10,106.70) rotate(-90)" x="1.60" y="0" font-size="22" font-style="italic" textLength="8.49" lengthAdjust="spacingAndGlyphs">y</text>
<text transform="translate(460.10,86.50) rotate(-90)" x="-1.45" y="0" font-size="22" textLength="67.20" lengthAdjust="spacingAndGlyphs">[arcmin]</text>
<g transform="translate(501.35,190.60)" clip-path="url(#cdv)"><use href="#dvb"/>
<path d="M35.3 7.9H39.9L37.6 11.9ZM37.3 6.9H41.9L39.6 10.9ZM49.3 8.3H53.9L51.6 12.3ZM59.3 8.9H63.9L61.6 12.9ZM62.3 9.5H66.9L64.6 13.5ZM65.3 9.5H69.9L67.6 13.5Z" fill="#007f00"/>
<path d="M39.6 56.6h0M48.6 57.2h0M51.2 56.0h0M54.0 57.6h0" stroke="#7f007f" stroke-width="4.0" stroke-linecap="round"/>
<path d="M6.1 14.4h0M8.6 15.4h0M10.6 16.9h0M7.1 18.4h0M9.6 19.9h0M7.6 21.4h0M11.6 22.4h0M5.1 16.4h0M12.6 20.4h0" stroke="#ff0000" stroke-width="3.5" stroke-linecap="round"/>
</g>
<rect x="501.35" y="190.60" width="125.2" height="66.9" fill="none" stroke="#222" stroke-width="1.2"/>
<path d="M543.1 190.6v3.6M543.1 257.5v-3.6M584.8 190.6v3.6M584.8 257.5v-3.6M501.4 224.1h3.6M626.6 224.1h-3.6" stroke="#000" stroke-width="1"/>
<text x="497.30" y="272.70" font-size="17.6" textLength="8.10" lengthAdjust="spacingAndGlyphs">0</text>
<text x="539.13" y="272.70" font-size="17.6" textLength="8.10" lengthAdjust="spacingAndGlyphs">2</text>
<text x="580.74" y="272.70" font-size="17.6" textLength="8.10" lengthAdjust="spacingAndGlyphs">4</text>
<text x="622.40" y="272.70" font-size="17.6" textLength="8.10" lengthAdjust="spacingAndGlyphs">6</text>
<text x="464.98" y="197.00" font-size="17.6" textLength="32.38" lengthAdjust="spacingAndGlyphs">5000</text>
<text x="489.27" y="230.45" font-size="17.6" textLength="8.10" lengthAdjust="spacingAndGlyphs">0</text>
<text x="455.85" y="263.90" font-size="17.6" textLength="41.52" lengthAdjust="spacingAndGlyphs">&#8722;5000</text>
<text x="515.27" y="294.90" font-size="22" font-style="italic" textLength="13.65" lengthAdjust="spacingAndGlyphs">R</text>
<text x="527.80" y="297.50" font-size="14.6" font-style="italic" textLength="9.84" lengthAdjust="spacingAndGlyphs">p</text>
<text x="544.58" y="294.90" font-size="22" textLength="69.24" lengthAdjust="spacingAndGlyphs">[Mpc/h]</text>
<text transform="translate(444.15,267.60) rotate(-90)" x="-0.94" y="0" font-size="22" textLength="15.87" lengthAdjust="spacingAndGlyphs">&#916;</text>
<text transform="translate(444.15,251.60) rotate(-90)" x="-0.29" y="0" font-size="22" font-style="italic" textLength="9.39" lengthAdjust="spacingAndGlyphs">v</text>
<text transform="translate(444.15,232.40) rotate(-90)" x="-1.55" y="0" font-size="22" textLength="54.39" lengthAdjust="spacingAndGlyphs">[km/s]</text>
<g transform="translate(243.15,385.00)" clip-path="url(#cxy)"><use href="#xyb"/>
<path d="M30.5 -8.1H35.1L32.8 -4.1ZM24.6 -4.7H29.2L26.9 -0.7ZM17.2 4.5H21.8L19.5 8.5ZM28.0 9.3H32.6L30.3 13.3ZM25.4 20.6H30.0L27.7 24.6Z" fill="#007f00"/>
<path d="M17.6 11.0h0M18.2 12.5h0M19.8 17.8h0M20.9 18.9h0" stroke="#ffa500" stroke-width="4.0" stroke-linecap="round"/>
</g>
<rect x="180.50" y="322.20" width="125.3" height="125.6" fill="none" stroke="#222" stroke-width="1.2"/>
<path d="M284.9 322.2v3.6M284.9 447.8v-3.6M180.5 426.8h3.6M305.8 426.8h-3.6M243.2 322.2v3.6M243.2 447.8v-3.6M180.5 385.0h3.6M305.8 385.0h-3.6M201.4 322.2v3.6M201.4 447.8v-3.6M180.5 343.2h3.6M305.8 343.2h-3.6" stroke="#000" stroke-width="1"/>
<text x="160.87" y="349.60" font-size="17.6" textLength="16.19" lengthAdjust="spacingAndGlyphs">20</text>
<text x="193.21" y="462.70" font-size="17.6" textLength="16.19" lengthAdjust="spacingAndGlyphs">20</text>
<text x="168.97" y="391.40" font-size="17.6" textLength="8.10" lengthAdjust="spacingAndGlyphs">0</text>
<text x="239.10" y="462.70" font-size="17.6" textLength="8.10" lengthAdjust="spacingAndGlyphs">0</text>
<text x="151.74" y="433.20" font-size="17.6" textLength="25.32" lengthAdjust="spacingAndGlyphs">&#8722;20</text>
<text x="272.19" y="462.70" font-size="17.6" textLength="25.32" lengthAdjust="spacingAndGlyphs">&#8722;20</text>
<text x="203.32" y="344.40" font-size="22.5" font-style="italic" textLength="15.73" lengthAdjust="spacingAndGlyphs">N</text>
<text x="218.29" y="346.80" font-size="14.8" textLength="28.43" lengthAdjust="spacingAndGlyphs">subs</text>
<text x="252.41" y="345.90" font-size="22.5" textLength="16.36" lengthAdjust="spacingAndGlyphs">=</text>
<text x="273.14" y="344.30" font-size="22.5" textLength="11.62" lengthAdjust="spacingAndGlyphs">3</text>
<text x="200.02" y="486.00" font-size="22" font-style="italic" textLength="9.79" lengthAdjust="spacingAndGlyphs">x</text>
<text x="217.15" y="486.00" font-size="22" textLength="69.39" lengthAdjust="spacingAndGlyphs">[arcmin]</text>
<text transform="translate(139.25,428.30) rotate(-90)" x="1.60" y="0" font-size="22" font-style="italic" textLength="8.49" lengthAdjust="spacingAndGlyphs">y</text>
<text transform="translate(139.25,408.10) rotate(-90)" x="-1.45" y="0" font-size="22" textLength="67.20" lengthAdjust="spacingAndGlyphs">[arcmin]</text>
<g transform="translate(180.50,512.20)" clip-path="url(#cdv)"><use href="#dvb"/>
<path d="M35.3 7.9H39.9L37.6 11.9ZM37.3 6.9H41.9L39.6 10.9ZM49.3 8.3H53.9L51.6 12.3ZM59.3 8.9H63.9L61.6 12.9ZM62.3 9.5H66.9L64.6 13.5ZM65.3 9.5H69.9L67.6 13.5Z" fill="#007f00"/>
<path d="M39.6 56.6h0M48.6 57.2h0M51.2 56.0h0M54.0 57.6h0" stroke="#ffa500" stroke-width="4.0" stroke-linecap="round"/>
<path d="M6.1 14.4h0M8.6 15.4h0M10.6 16.9h0M7.1 18.4h0M9.6 19.9h0M7.6 21.4h0M11.6 22.4h0M5.1 16.4h0M12.6 20.4h0" stroke="#ff0000" stroke-width="3.5" stroke-linecap="round"/>
</g>
<rect x="180.50" y="512.20" width="125.2" height="66.9" fill="none" stroke="#222" stroke-width="1.2"/>
<path d="M222.2 512.2v3.6M222.2 579.1v-3.6M264.0 512.2v3.6M264.0 579.1v-3.6M180.5 545.7h3.6M305.7 545.7h-3.6" stroke="#000" stroke-width="1"/>
<text x="176.45" y="594.30" font-size="17.6" textLength="8.10" lengthAdjust="spacingAndGlyphs">0</text>
<text x="218.28" y="594.30" font-size="17.6" textLength="8.10" lengthAdjust="spacingAndGlyphs">2</text>
<text x="259.89" y="594.30" font-size="17.6" textLength="8.10" lengthAdjust="spacingAndGlyphs">4</text>
<text x="301.55" y="594.30" font-size="17.6" textLength="8.10" lengthAdjust="spacingAndGlyphs">6</text>
<text x="144.13" y="518.60" font-size="17.6" textLength="32.38" lengthAdjust="spacingAndGlyphs">5000</text>
<text x="168.42" y="552.05" font-size="17.6" textLength="8.10" lengthAdjust="spacingAndGlyphs">0</text>
<text x="135.00" y="585.50" font-size="17.6" textLength="41.52" lengthAdjust="spacingAndGlyphs">&#8722;5000</text>
<text x="194.42" y="616.50" font-size="22" font-style="italic" textLength="13.65" lengthAdjust="spacingAndGlyphs">R</text>
<text x="206.95" y="619.10" font-size="14.6" font-style="italic" textLength="9.84" lengthAdjust="spacingAndGlyphs">p</text>
<text x="223.73" y="616.50" font-size="22" textLength="69.24" lengthAdjust="spacingAndGlyphs">[Mpc/h]</text>
<text transform="translate(123.30,589.20) rotate(-90)" x="-0.94" y="0" font-size="22" textLength="15.87" lengthAdjust="spacingAndGlyphs">&#916;</text>
<text transform="translate(123.30,573.20) rotate(-90)" x="-0.29" y="0" font-size="22" font-style="italic" textLength="9.39" lengthAdjust="spacingAndGlyphs">v</text>
<text transform="translate(123.30,554.00) rotate(-90)" x="-1.55" y="0" font-size="22" textLength="54.39" lengthAdjust="spacingAndGlyphs">[km/s]</text>
<g transform="translate(457.15,385.00)" clip-path="url(#cxy)"><use href="#xyb"/>
<path d="M30.5 -8.1H35.1L32.8 -4.1ZM24.6 -4.7H29.2L26.9 -0.7ZM17.2 4.5H21.8L19.5 8.5ZM28.0 9.3H32.6L30.3 13.3ZM25.4 20.6H30.0L27.7 24.6Z" fill="#007f00"/>
<path d="M14.3 50.3h0" stroke="#ff0000" stroke-width="3.5" stroke-linecap="round"/>
<path d="M17.6 11.0h0M18.2 12.5h0M19.8 17.8h0M20.9 18.9h0" stroke="#8b3a3a" stroke-width="4.0" stroke-linecap="round"/>
<path d="M-2.1 -9.8h0M3.0 -11.0h0M4.0 -10.5h0" stroke="#7f007f" stroke-width="4.2" stroke-linecap="round"/>
</g>
<rect x="394.50" y="322.20" width="125.3" height="125.6" fill="none" stroke="#222" stroke-width="1.2"/>
<path d="M498.9 322.2v3.6M498.9 447.8v-3.6M394.5 426.8h3.6M519.8 426.8h-3.6M457.1 322.2v3.6M457.1 447.8v-3.6M394.5 385.0h3.6M519.8 385.0h-3.6M415.3 322.2v3.6M415.3 447.8v-3.6M394.5 343.2h3.6M519.8 343.2h-3.6" stroke="#000" stroke-width="1"/>
<text x="374.87" y="349.60" font-size="17.6" textLength="16.19" lengthAdjust="spacingAndGlyphs">20</text>
<text x="407.21" y="462.70" font-size="17.6" textLength="16.19" lengthAdjust="spacingAndGlyphs">20</text>
<text x="382.97" y="391.40" font-size="17.6" textLength="8.10" lengthAdjust="spacingAndGlyphs">0</text>
<text x="453.10" y="462.70" font-size="17.6" textLength="8.10" lengthAdjust="spacingAndGlyphs">0</text>
<text x="365.74" y="433.20" font-size="17.6" textLength="25.32" lengthAdjust="spacingAndGlyphs">&#8722;20</text>
<text x="486.19" y="462.70" font-size="17.6" textLength="25.32" lengthAdjust="spacingAndGlyphs">&#8722;20</text>
<text x="417.32" y="344.40" font-size="22.5" font-style="italic" textLength="15.73" lengthAdjust="spacingAndGlyphs">N</text>
<text x="432.29" y="346.80" font-size="14.8" textLength="28.43" lengthAdjust="spacingAndGlyphs">subs</text>
<text x="466.41" y="345.90" font-size="22.5" textLength="16.36" lengthAdjust="spacingAndGlyphs">=</text>
<text x="487.85" y="344.30" font-size="22.5" textLength="10.33" lengthAdjust="spacingAndGlyphs">4</text>
<text x="414.02" y="486.00" font-size="22" font-style="italic" textLength="9.79" lengthAdjust="spacingAndGlyphs">x</text>
<text x="431.15" y="486.00" font-size="22" textLength="69.39" lengthAdjust="spacingAndGlyphs">[arcmin]</text>
<text transform="translate(353.25,428.30) rotate(-90)" x="1.60" y="0" font-size="22" font-style="italic" textLength="8.49" lengthAdjust="spacingAndGlyphs">y</text>
<text transform="translate(353.25,408.10) rotate(-90)" x="-1.45" y="0" font-size="22" textLength="67.20" lengthAdjust="spacingAndGlyphs">[arcmin]</text>
<g transform="translate(394.50,512.20)" clip-path="url(#cdv)"><use href="#dvb"/>
<path d="M35.3 7.9H39.9L37.6 11.9ZM37.3 6.9H41.9L39.6 10.9ZM49.3 8.3H53.9L51.6 12.3ZM59.3 8.9H63.9L61.6 12.9ZM62.3 9.5H66.9L64.6 13.5ZM65.3 9.5H69.9L67.6 13.5Z" fill="#007f00"/>
<path d="M39.6 56.6h0M48.6 57.2h0M51.2 56.0h0M54.0 57.6h0" stroke="#8b3a3a" stroke-width="4.0" stroke-linecap="round"/>
<path d="M6.5 15.0h0M9.0 16.5h0M11.0 15.5h0M14.0 14.5h0M8.0 18.0h0" stroke="#000" stroke-width="2.0" stroke-linecap="round"/>
<path d="M98.5 32.8h0" stroke="#ff0000" stroke-width="3.5" stroke-linecap="round"/>
<path d="M17.5 16.0h0M20.0 15.0h0M21.5 16.5h0M23.0 19.0h0M20.5 18.5h0" stroke="#7f007f" stroke-width="4.2" stroke-linecap="round"/>
</g>
<rect x="394.50" y="512.20" width="125.2" height="66.9" fill="none" stroke="#222" stroke-width="1.2"/>
<path d="M436.2 512.2v3.6M436.2 579.1v-3.6M478.0 512.2v3.6M478.0 579.1v-3.6M394.5 545.7h3.6M519.7 545.7h-3.6" stroke="#000" stroke-width="1"/>
<text x="390.45" y="594.30" font-size="17.6" textLength="8.10" lengthAdjust="spacingAndGlyphs">0</text>
<text x="432.28" y="594.30" font-size="17.6" textLength="8.10" lengthAdjust="spacingAndGlyphs">2</text>
<text x="473.89" y="594.30" font-size="17.6" textLength="8.10" lengthAdjust="spacingAndGlyphs">4</text>
<text x="515.55" y="594.30" font-size="17.6" textLength="8.10" lengthAdjust="spacingAndGlyphs">6</text>
<text x="358.13" y="518.60" font-size="17.6" textLength="32.38" lengthAdjust="spacingAndGlyphs">5000</text>
<text x="382.42" y="552.05" font-size="17.6" textLength="8.10" lengthAdjust="spacingAndGlyphs">0</text>
<text x="349.00" y="585.50" font-size="17.6" textLength="41.52" lengthAdjust="spacingAndGlyphs">&#8722;5000</text>
<text x="408.42" y="616.50" font-size="22" font-style="italic" textLength="13.65" lengthAdjust="spacingAndGlyphs">R</text>
<text x="420.95" y="619.10" font-size="14.6" font-style="italic" textLength="9.84" lengthAdjust="spacingAndGlyphs">p</text>
<text x="437.73" y="616.50" font-size="22" textLength="69.24" lengthAdjust="spacingAndGlyphs">[Mpc/h]</text>
<text transform="translate(337.30,589.20) rotate(-90)" x="-0.94" y="0" font-size="22" textLength="15.87" lengthAdjust="spacingAndGlyphs">&#916;</text>
<text transform="translate(337.30,573.20) rotate(-90)" x="-0.29" y="0" font-size="22" font-style="italic" textLength="9.39" lengthAdjust="spacingAndGlyphs">v</text>
<text transform="translate(337.30,554.00) rotate(-90)" x="-1.55" y="0" font-size="22" textLength="54.39" lengthAdjust="spacingAndGlyphs">[km/s]</text>
</svg></body></html>
